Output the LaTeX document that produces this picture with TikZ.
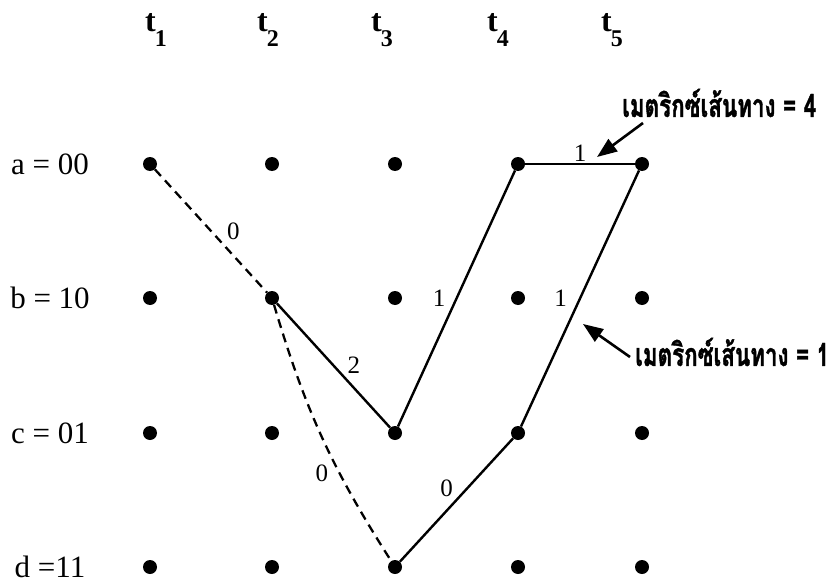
\documentclass[tikz,border=0pt]{standalone}
\usepackage{fontspec}
\setmainfont{Liberation Serif}
\newfontfamily\thaifont[Script=Thai, FakeStretch=0.7, BoldFeatures={FakeBold=1.2}]{Loma}
\usetikzlibrary{
    arrows.meta,
    positioning,
    calc
}

\begin{document}
\begin{tikzpicture}[
    x=1pt, y=-1pt,
    every node/.style={font=\fontsize{25}{30}\selectfont},
    ponto/.style={
        circle,
        fill,
        inner sep=0pt,
        minimum size=14pt
    },
    estado/.style={font=\fontsize{31}{36}\selectfont},
    tempo/.style={font=\bfseries\fontsize{32}{36}\selectfont},
    ramo/.style={line width=2.4pt},
    corte/.style={
        line width=2.3pt,
        dash pattern=on 9pt off 6pt
    },
    peso/.style={inner sep=1pt},
    nota/.style={
        font=\thaifont\bfseries\fontsize{32}{36}\selectfont,
        anchor=west,
        inner sep=0pt
    },
    seta/.style={
        -{Triangle[length=20pt,width=15pt]},
        line width=2.6pt
    }
]

\useasboundingbox (0,0) rectangle (833,586);

% grade de estados
\foreach \s/\y in {a/164, b/298, c/433, d/567}
    \foreach \t/\x in {1/150, 2/272, 3/395, 4/518, 5/642}
        \node[ponto] (\s\t) at (\x,\y) {};

% rotulos dos estados e dos instantes
\node[estado] (ea) at (50,164) {a = 00};
\node[estado] (eb) at (50,298) {b = 10};
\node[estado] (ec) at (50,433) {c = 01};
\node[estado] (ed) at (50,567) {d =11};

\foreach \t/\x in {1/156, 2/268, 3/382, 4/498, 5/612}
    \node[tempo] (t\t) at (\x,30) {t\kern-1pt\raisebox{-15pt}{\fontsize{24}{28}\selectfont\t}};

% caminhos descartados
\draw[corte] (a1) -- node[peso, midway, right=14pt] {0} (b2);
\draw[corte] (b2) to[bend right=8] node[peso, pos=0.65, left=9pt] {0} (d3);

% caminhos sobreviventes
\draw[ramo] (b2) -- node[peso, midway, right=12pt] {2} (c3);
\draw[ramo] (c3) -- node[peso, midway, left=9pt] {1} (a4);
\draw[ramo] (a4) -- node[peso, midway, above=0pt] {1} (a5);
\draw[ramo] (d3) -- node[peso, midway, above left=2pt] {0} (c4);
\draw[ramo] (c4) -- node[peso, midway, left=11pt] {1} (a5);

% metricas
\node[nota] (nota4) at (622,103) {เมตริกซ์เส้นทาง = 4};
\node[nota] (nota1) at (635,352) {เมตริกซ์เส้นทาง = 1};

\coordinate (cauda4) at (643,123);
\coordinate (ponta4) at (597,157);
\coordinate (cauda1) at (630,357);
\coordinate (ponta1) at (583,324);

\draw[seta] (cauda4) -- (ponta4);
\draw[seta] (cauda1) -- (ponta1);

\end{tikzpicture}
\end{document}
